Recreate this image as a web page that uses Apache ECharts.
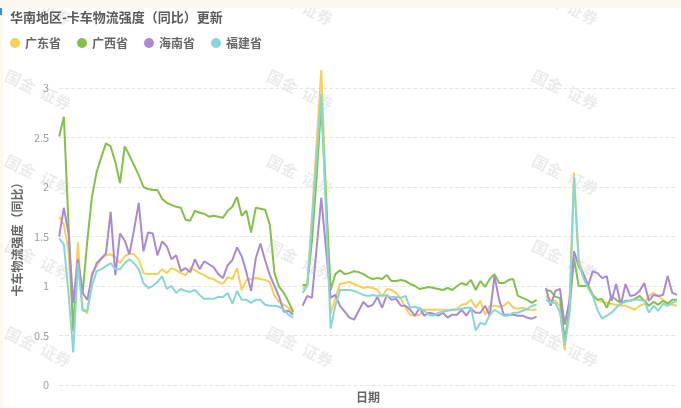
<!DOCTYPE html>
<html>
<head>
<meta charset="utf-8">
<script src="https://cdn.jsdelivr.net/npm/echarts@6/dist/echarts.min.js"></script>
<style>
html,body{margin:0;padding:0;background:#fcf8ee;width:681px;height:408px;overflow:hidden;}
#mark{position:absolute;left:0;top:8px;width:2px;height:7px;background:#2f8fd8;}
#chart{position:absolute;left:3px;top:8px;width:678px;height:400px;background:#fff;}
</style>
</head>
<body>
<div id="chart"></div>
<div id="mark"></div>
<script>
// ---- data ----
const seriesNames = ['广东省', '广西省', '海南省', '福建省'];
const yTicks = [0, 0.5, 1, 1.5, 2, 2.5, 3];
const titleText = '华南地区-卡车物流强度（同比）更新';
const yAxisName = '卡车物流强度（同比）';
const xAxisName = '日期';

const guangdong = [
  1.70,1.62,1.35,0.62,1.44,0.78,0.72,1.13,1.20,1.27,1.31,1.32,1.29,1.23,1.30,1.33,1.32,1.27,1.13,1.12,
  1.12,1.12,1.17,1.13,1.18,1.16,1.13,1.11,1.18,1.16,1.13,1.11,1.08,1.07,1.04,1.02,1.09,1.07,1.18,0.96,
  1.06,1.07,1.08,1.07,1.06,1.04,0.90,0.84,0.81,0.78,0.73,
  null,
  0.97,1.02,1.70,2.45,3.18,1.95,0.72,0.88,1.02,1.03,1.04,1.02,1.00,0.98,0.99,0.98,0.96,0.89,0.97,0.96,
  0.93,0.87,0.78,0.71,0.70,0.71,0.76,0.76,0.76,0.76,0.76,0.76,0.76,0.77,0.81,0.82,0.86,0.78,0.85,0.71,
  0.80,0.80,0.79,0.80,0.84,0.78,0.77,0.78,0.76,0.76,0.76,
  null,
  0.90,0.86,0.85,0.80,0.35,0.80,2.14,1.27,1.12,1.02,0.91,0.86,0.84,0.83,0.82,0.81,0.80,0.80,0.78,0.76,
  0.80,0.82,0.90,0.93,0.90,0.86,0.83,0.81,0.80
];
const guangxi = [
  2.51,2.71,1.62,0.54,1.27,0.92,1.45,1.90,2.15,2.30,2.44,2.41,2.25,2.04,2.41,2.32,2.22,2.12,2.00,1.98,
  1.97,1.97,1.88,1.84,1.82,1.80,1.79,1.67,1.66,1.76,1.74,1.73,1.70,1.71,1.70,1.69,1.76,1.80,1.90,1.71,
  1.76,1.54,1.79,1.78,1.77,1.62,1.13,0.99,0.93,0.84,0.74,
  null,
  1.01,1.01,1.45,2.10,2.85,1.90,0.96,1.12,1.16,1.12,1.13,1.15,1.14,1.12,1.09,1.07,1.08,1.07,1.11,1.05,
  1.05,1.06,1.05,1.02,1.00,0.97,0.98,0.99,0.98,0.97,0.96,0.98,0.96,1.00,1.03,1.01,1.06,0.96,1.05,0.99,
  1.07,1.12,1.03,1.03,1.06,1.07,0.90,0.88,0.86,0.83,0.86,
  null,
  0.96,0.95,0.89,0.88,0.45,0.75,1.28,1.00,1.00,1.00,0.91,0.86,0.87,0.78,0.90,0.86,0.83,0.85,0.85,0.87,
  0.90,0.85,0.80,0.84,0.81,0.85,0.82,0.86,0.86
];
const hainan = [
  1.50,1.79,1.53,0.83,1.27,0.93,0.86,1.10,1.23,1.28,1.33,1.75,1.11,1.53,1.46,1.32,1.57,1.84,1.35,1.54,
  1.53,1.31,1.45,1.40,1.27,1.31,1.15,1.18,1.14,1.27,1.17,1.25,1.22,1.19,1.12,1.08,1.21,1.26,1.39,1.30,
  1.14,0.95,1.28,1.43,1.26,1.11,1.00,0.89,0.74,0.75,0.71,
  null,
  0.80,0.90,0.88,1.38,1.89,1.38,0.88,0.91,0.80,0.74,0.68,0.66,0.75,0.84,0.79,0.81,0.89,0.78,0.91,0.86,
  0.87,0.80,0.80,0.76,0.70,0.78,0.70,0.73,0.72,0.70,0.73,0.68,0.71,0.71,0.76,0.70,0.77,0.73,0.73,0.80,
  0.70,1.10,0.86,0.71,0.71,0.71,0.70,0.70,0.68,0.67,0.69,
  null,
  0.98,0.80,0.95,0.97,0.61,0.85,1.35,1.20,1.12,1.00,1.15,1.13,1.08,1.10,0.85,1.02,0.81,1.02,0.90,0.91,
  0.95,1.03,0.85,0.91,0.90,0.91,1.10,0.93,0.91
];
const fujian = [
  1.48,1.42,0.93,0.33,1.23,0.75,0.75,1.00,1.15,1.17,1.20,1.23,1.17,1.17,1.23,1.27,1.23,1.17,1.03,0.98,
  1.00,1.04,1.10,0.97,1.00,0.93,0.97,0.95,0.94,0.96,0.91,0.87,0.87,0.87,0.89,0.89,0.93,0.82,0.95,0.86,
  0.86,0.83,0.86,0.86,0.81,0.80,0.80,0.79,0.76,0.71,0.68,
  null,
  0.93,1.00,1.65,2.30,2.94,1.75,0.57,0.80,0.96,0.96,0.96,0.95,0.93,0.91,0.90,0.91,0.90,0.91,0.90,0.89,
  0.89,0.88,0.90,0.78,0.79,0.77,0.75,0.71,0.70,0.73,0.74,0.75,0.76,0.76,0.77,0.78,0.78,0.55,0.63,0.61,
  0.71,0.76,0.73,0.70,0.70,0.73,0.73,0.75,0.77,0.80,0.81,
  null,
  0.86,0.83,0.83,0.73,0.40,0.70,2.10,1.23,1.08,0.98,0.90,0.76,0.67,0.70,0.73,0.78,0.82,0.84,0.85,0.86,
  0.86,0.85,0.73,0.80,0.75,0.82,0.80,0.83,0.85
];
const categories = guangdong.map((_, i) => 'D' + (i + 1));

// ---- chart ----
const colors = ['#f5d157', '#84c04a', '#a98ad3', '#88d7d5'];
const chart = echarts.init(document.getElementById('chart'));
const font = '"Noto Sans CJK SC", "Noto Sans", sans-serif';

const wm = [];
[35, 297, 562].forEach(cx => {
  [-3, 82, 167, 252, 339].forEach(cy => {
    wm.push({
      type: 'text', x: cx, y: cy, rotation: -0.45, silent: true, z: 0,
      style: { text: '国金  证券', fill: 'rgba(0,0,0,0.08)', font: 'bold 16px ' + font, align: 'center', verticalAlign: 'middle' }
    });
  });
});

chart.setOption({
  animation: false,
  color: colors,
  graphic: wm,
  title: {
    text: titleText, left: 7, top: 3, padding: 0,
    textStyle: { fontSize: 13, fontWeight: 'bold', color: '#5a5a5a', fontFamily: font }
  },
  legend: {
    data: seriesNames, left: 7, top: 29, padding: 0, icon: 'circle',
    itemWidth: 10, itemHeight: 10, itemGap: 16,
    textStyle: { fontSize: 12, fontWeight: 'bold', color: '#666', fontFamily: font }
  },
  grid: { left: 52, right: 4, top: 80, bottom: 22, containLabel: false },
  xAxis: {
    type: 'category', data: categories, boundaryGap: false,
    name: xAxisName, nameLocation: 'middle', nameGap: 6,
    nameTextStyle: { fontSize: 12, fontWeight: 'bold', color: '#666', fontFamily: font },
    axisLine: { show: false }, axisTick: { show: false }, axisLabel: { show: false }, splitLine: { show: false }
  },
  yAxis: {
    type: 'value', min: yTicks[0], max: yTicks[yTicks.length - 1], interval: 0.5,
    name: yAxisName, nameLocation: 'middle', nameGap: 32,
    nameTextStyle: { fontSize: 12, fontWeight: 'bold', color: '#666', fontFamily: font },
    axisLine: { show: false }, axisTick: { show: false },
    axisLabel: { fontSize: 11, color: '#a0a0a0', margin: 10, fontFamily: font },
    splitLine: { show: true, lineStyle: { type: 'dashed', color: '#e6e6e6', width: 1 } }
  },
  series: [guangdong, guangxi, hainan, fujian].map((d, i) => ({
    name: seriesNames[i], type: 'line', data: d, showSymbol: false, symbol: 'none', clip: false,
    connectNulls: false, lineStyle: { width: 2, color: colors[i] }, itemStyle: { color: colors[i] }
  }))
});
</script>
</body>
</html>
